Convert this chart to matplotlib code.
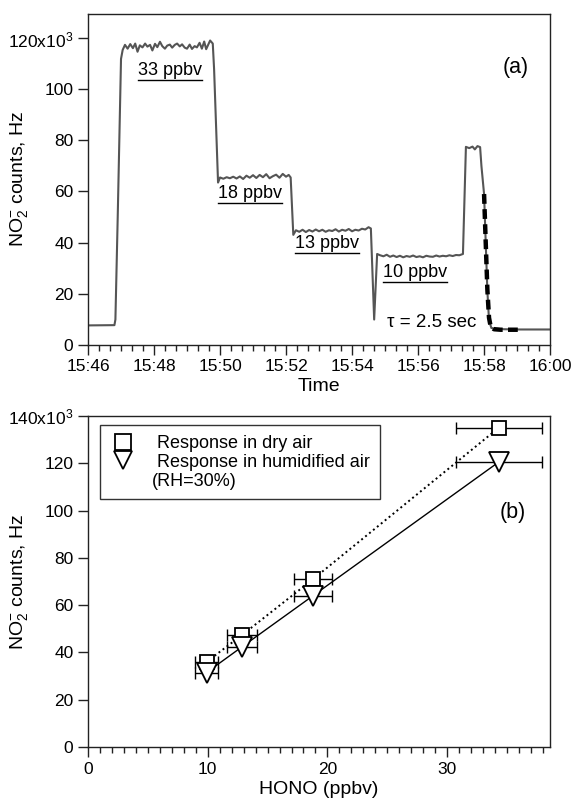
import matplotlib
matplotlib.use("Agg")
import matplotlib.pyplot as plt
from matplotlib.lines import Line2D
from matplotlib.ticker import MultipleLocator, FuncFormatter

plt.rcParams['font.family'] = ['Liberation Sans', 'DejaVu Sans']
plt.rcParams['mathtext.fontset'] = 'custom'
plt.rcParams['mathtext.rm'] = 'Liberation Sans'
plt.rcParams['mathtext.it'] = 'Liberation Sans:italic'

# (a) time trace, minutes after 15:46, counts in 10^3 Hz
t_min = [0.0, 0.80, 0.83, 0.90, 1.00, 1.05, 1.12, 1.20, 1.28, 1.36, 1.43, 1.50, 1.57, 1.65,
         1.73, 1.80, 1.88, 1.95, 2.03, 2.10, 2.18, 2.25, 2.33, 2.40, 2.48, 2.55, 2.63, 2.70,
         2.78, 2.85, 2.93, 3.00, 3.08, 3.15, 3.23, 3.30, 3.38, 3.45, 3.52, 3.58, 3.65, 3.70,
         3.78, 3.82, 3.94, 4.00, 4.10, 4.20, 4.30, 4.40, 4.50, 4.60, 4.70, 4.80, 4.90, 5.00,
         5.10, 5.20, 5.30, 5.40, 5.50, 5.60, 5.70, 5.80, 5.90, 6.00, 6.08, 6.14, 6.22, 6.30,
         6.40, 6.50, 6.60, 6.70, 6.80, 6.90, 7.00, 7.10, 7.20, 7.30, 7.40, 7.50, 7.60, 7.70,
         7.80, 7.90, 8.00, 8.10, 8.20, 8.30, 8.40, 8.50, 8.57, 8.67, 8.76, 8.85, 8.95, 9.05,
         9.15, 9.25, 9.35, 9.45, 9.55, 9.65, 9.75, 9.85, 9.95, 10.05, 10.15, 10.25, 10.35,
         10.45, 10.55, 10.65, 10.75, 10.85, 10.95, 11.05, 11.15, 11.25, 11.36, 11.45, 11.55,
         11.65, 11.72, 11.80, 11.88, 11.92, 12.00, 12.05, 12.10, 12.15, 12.22, 12.35, 12.6,
         13.0, 13.5, 14.0]
counts = [7.5, 7.6, 9.8, 50.0, 112.0, 115.5, 117.5, 116.0, 117.8, 116.2, 118.0, 114.8, 117.3,
          116.5, 118.0, 116.8, 117.5, 115.3, 117.9, 116.6, 118.7, 117.0, 116.0, 117.2, 117.6,
          116.4, 117.5, 118.0, 116.9, 117.7, 116.4, 116.0, 117.6, 115.9, 117.0, 116.5, 118.3,
          116.0, 118.8, 115.8, 117.8, 119.2, 118.0, 108.0, 63.5, 65.5, 65.0, 65.6, 65.2, 65.8,
          65.1, 65.9, 64.9, 66.2, 65.4, 66.4, 65.3, 66.5, 65.6, 66.8, 65.2, 66.0, 66.6, 65.4,
          66.9, 65.8, 66.5, 65.5, 43.0, 44.8, 44.2, 45.0, 44.1, 44.9, 44.3, 45.1, 44.4, 45.0,
          44.2, 44.8, 44.5, 45.2, 44.3, 45.0, 44.6, 45.3, 44.4, 45.0, 44.7, 45.4, 45.1, 46.0,
          45.5, 9.8, 35.5, 35.0, 34.6, 35.2, 34.4, 34.9, 34.3, 34.8, 34.2, 34.7, 34.4, 34.9,
          34.3, 34.6, 34.2, 34.8, 34.5, 34.4, 34.9, 34.5, 34.8, 34.6, 35.0, 34.7, 35.1, 35.0,
          35.5, 77.5, 77.0, 77.6, 76.5, 77.8, 77.4, 70.0, 59.0, 40.0, 21.0, 9.5, 6.5, 6.2, 6.0,
          5.9, 5.9, 5.9]

# exponential fit, tau = 2.5 s
fit_t = [12.00, 12.05, 12.10, 12.15, 12.20, 12.30, 12.50, 12.80, 13.15]
fit_v = [59.0, 40.0, 21.5, 10.5, 7.0, 6.0, 5.8, 5.8, 5.8]

tick_times = ["15:46", "15:48", "15:50", "15:52", "15:54", "15:56", "15:58", "16:00"]

level_labels = ["33 ppbv", "18 ppbv", "13 ppbv", "10 ppbv"]
level_t = [1.52, 3.94, 6.27, 8.94]
level_v = [107.5, 59.2, 39.6, 28.2]

# (b) calibration
hono = [9.9, 12.9, 18.8, 34.3]
hono_err = [1.0, 1.25, 1.6, 3.6]
dry = [36.0, 47.5, 71.0, 135.0]
humid = [31.5, 42.5, 64.0, 120.5]

fig = plt.figure(figsize=(5.73, 7.99), dpi=100)
ax1 = fig.add_axes([0.1536, 0.5688, 0.8064, 0.4137])
ax2 = fig.add_axes([0.1536, 0.0651, 0.8064, 0.4142])

for ax in (ax1, ax2):
    for s in ax.spines.values():
        s.set_color('#222222')
        s.set_linewidth(1.0)
    ax.tick_params(which='major', direction='out', length=7, width=1, labelsize=12.5, color='#222222')
    ax.tick_params(which='minor', direction='out', length=4, width=1, color='#222222')
    ax.tick_params(axis='y', which='minor', left=False)

# ---- panel (a)
ax1.plot(t_min, counts, color='#555555', lw=1.5)
ax1.plot(fit_t, fit_v, color='k', lw=3.2, dashes=(2.2, 1.2))
ax1.set_xlim(0, 14)
ax1.set_ylim(0, 129.6)
ax1.set_xticks(range(0, 15, 2), tick_times)
ax1.xaxis.set_minor_locator(MultipleLocator(1 / 3))
ax1.yaxis.set_major_locator(MultipleLocator(20))
ax1.yaxis.set_major_formatter(FuncFormatter(lambda v, p: "120x10$^3$" if v == 120 else f"{v:.0f}"))
ax1.set_xlabel("Time", fontsize=14, labelpad=3)
ax1.set_ylabel("NO$_2^{-}$ counts, Hz", fontsize=14)
ax1.yaxis.set_label_coords(-0.125, 0.5)

under = []
for lab, tx, vy in zip(level_labels, level_t, level_v):
    under.append(ax1.text(tx, vy, lab, fontsize=13, va='center', ha='left'))
ax1.text(9.06, 8.6, "τ = 2.5 sec", fontsize=13.5, va='center', ha='left')
ax1.text(12.55, 108.6, "(a)", fontsize=15.5, va='center', ha='left')

# ---- panel (b)
ax2.errorbar(hono, dry, xerr=hono_err, fmt='none', ecolor='k', elinewidth=1, capsize=4)
ax2.errorbar(hono, humid, xerr=hono_err, fmt='none', ecolor='k', elinewidth=1, capsize=4)
ax2.plot(hono, dry, color='k', lw=1.4, ls=(0, (1, 1.6)))
ax2.plot(hono, humid, color='k', lw=1.0)
ax2.plot(hono, dry, ls='none', marker='s', ms=10, mfc='white', mec='k', mew=1.3)
ax2.plot(hono, humid, ls='none', marker='v', ms=15, mfc='white', mec='k', mew=1.3)
ax2.set_xlim(0, 38.6)
ax2.set_ylim(0, 140)
ax2.xaxis.set_major_locator(MultipleLocator(10))
ax2.xaxis.set_minor_locator(MultipleLocator(1))
ax2.yaxis.set_major_locator(MultipleLocator(20))
ax2.yaxis.set_major_formatter(FuncFormatter(lambda v, p: "140x10$^3$" if v == 140 else f"{v:.0f}"))
ax2.set_xlabel("HONO (ppbv)", fontsize=14, labelpad=3)
ax2.set_ylabel("NO$_2^{-}$ counts, Hz", fontsize=14)
ax2.yaxis.set_label_coords(-0.125, 0.5)
ax2.text(34.4, 99, "(b)", fontsize=15.5, va='center', ha='left')

handles = [Line2D([0], [0], ls='none', marker='s', ms=11, mfc='white', mec='k', mew=1.3),
           Line2D([0], [0], ls='none', marker='v', ms=13, mfc='white', mec='k', mew=1.3),
           Line2D([0], [0], ls='none')]
leg = ax2.legend(handles, ["Response in dry air", "Response in humidified air", "(RH=30%)"],
                 loc='upper left', bbox_to_anchor=(0.026, 0.973), borderaxespad=0,
                 fontsize=13, frameon=True, fancybox=False, edgecolor='k',
                 handlelength=1.4, handletextpad=1.2, labelspacing=0.1, borderpad=0.55)
leg.get_frame().set_linewidth(1.0)
leg.get_texts()[2].set_position((-5, 0))

# underline the concentration labels
fig.canvas.draw()
r = fig.canvas.get_renderer()
for t in under:
    bb = t.get_window_extent(r)
    y = bb.y0 - 1
    fig.add_artist(Line2D([bb.x0 / fig.dpi / 5.73, bb.x1 / fig.dpi / 5.73],
                          [y / fig.dpi / 7.99, y / fig.dpi / 7.99],
                          color='k', lw=1.0, transform=fig.transFigure))

fig.savefig("out.png", dpi=100)
